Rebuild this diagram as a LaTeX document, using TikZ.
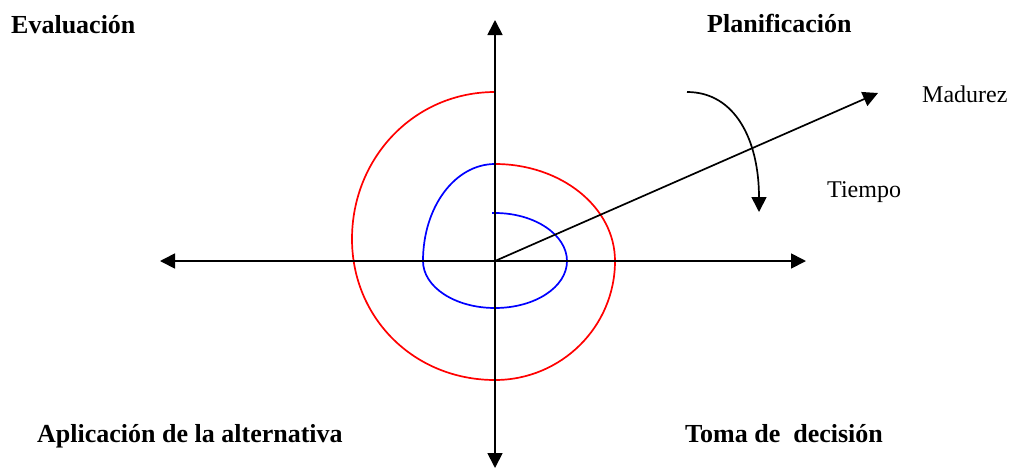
\documentclass[tikz,border=0pt]{standalone}
\usepackage{fontspec}
\setmainfont{Liberation Serif}
\usetikzlibrary{arrows.meta}
\begin{document}
\begin{tikzpicture}[x=1pt,y=-1pt,
  axis/.style={line width=1.7pt,-{Triangle[length=15pt,width=15pt]}},
  both/.style={line width=1.7pt,{Triangle[length=15pt,width=15pt]}-{Triangle[length=15pt,width=15pt]}},
  spiral/.style={line width=1.7pt},
  boldlbl/.style={anchor=base west,inner sep=0pt,font=\fontsize{26}{30}\selectfont\bfseries},
  lbl/.style={anchor=base west,inner sep=0pt,font=\fontsize{24}{28}\selectfont}]
\useasboundingbox (0,0) rectangle (1014,472);
\coordinate (O) at (495,261);
\coordinate (L) at (160,261);
\coordinate (R) at (806,261);
\coordinate (T) at (495,20);
\coordinate (B) at (495,468);
\coordinate (M) at (878,93);
\coordinate (RS) at (495,92);
\coordinate (BS) at (495,164);
\coordinate (BE) at (492,213);
\coordinate (TS) at (687,92);
\coordinate (TE) at (759,212);
% spiral
\draw[spiral,red] (RS) .. controls (414,92) and (352,158) .. (352,239)
  .. controls (352,318) and (414,380) .. (495,380)
  .. controls (561,380) and (615,327) .. (615,261)
  .. controls (615,207) and (561,164) .. (BS);
\draw[spiral,blue] (BS) .. controls (455,164) and (423,207) .. (423,261)
  .. controls (423,287) and (455,308) .. (495,308)
  .. controls (535,308) and (567,287) .. (567,261)
  .. controls (567,235) and (535,213) .. (495,213) -- (BE);
% axes
\draw[both] (L) -- (R);
\draw[both] (B) -- (T);
\draw[axis] (O) -- (M);
\draw[axis] (TS) .. controls (735,92) and (759,140) .. (TE);
% labels
\node[boldlbl] (ev) at (11,33) {Evaluación};
\node[boldlbl] (pl) at (707,32) {Planificación};
\node[boldlbl] (ap) at (37,442) {Aplicación de la alternativa};
\node[boldlbl] (to) at (685,442) {Toma de\ \ decisión};
\node[lbl] (ma) at (922,102) {Madurez};
\node[lbl] (ti) at (827,197) {Tiempo};
\end{tikzpicture}
\end{document}
